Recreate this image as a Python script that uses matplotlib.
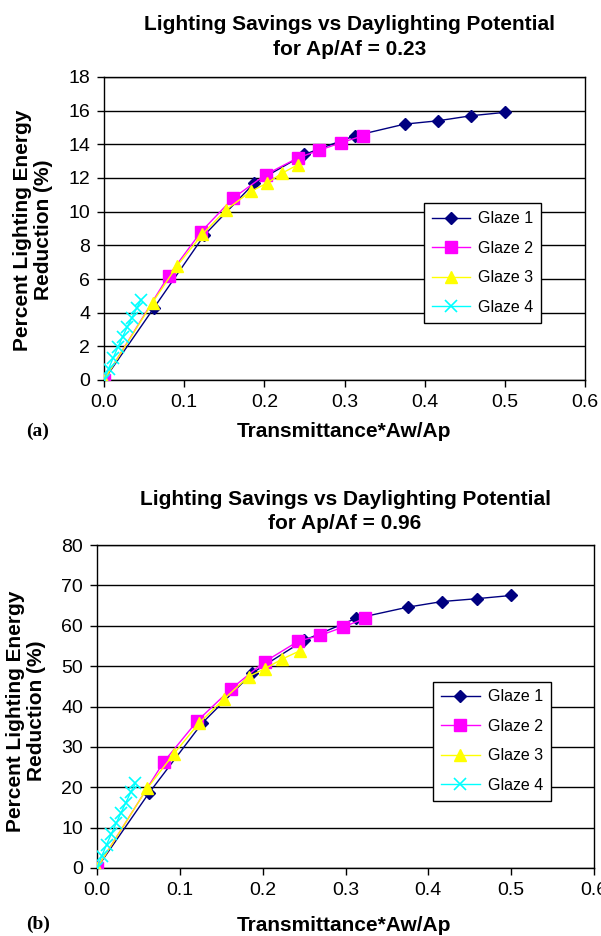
import matplotlib
matplotlib.use("Agg")
import matplotlib.pyplot as plt

plt.rcParams['font.family'] = ['Liberation Sans', 'DejaVu Sans']

# Ap/Af = 0.23
g1_x_a = [0.0, 0.0625, 0.125, 0.1875, 0.25, 0.3125, 0.375, 0.4167, 0.4583, 0.5]
g1_y_a = [0.0, 4.3, 8.6, 11.7, 13.4, 14.5, 15.2, 15.4, 15.7, 15.9]
g2_x_a = [0.0, 0.0806, 0.121, 0.161, 0.2016, 0.242, 0.2688, 0.2957, 0.3226]
g2_y_a = [0.0, 6.2, 8.8, 10.8, 12.2, 13.2, 13.65, 14.1, 14.5]
g3_x_a = [0.0, 0.0605, 0.0915, 0.1225, 0.152, 0.183, 0.2035, 0.2225, 0.2425]
g3_y_a = [0.0, 4.6, 6.8, 8.65, 10.1, 11.2, 11.7, 12.3, 12.8]
g4_x_a = [0.0, 0.0058, 0.0116, 0.0174, 0.0232, 0.029, 0.0348, 0.0406, 0.0464]
g4_y_a = [0.0, 0.68, 1.33, 1.96, 2.57, 3.15, 3.7, 4.25, 4.78]

# Ap/Af = 0.96
g1_x_b = [0.0, 0.0625, 0.127, 0.1875, 0.25, 0.3125, 0.375, 0.4167, 0.4583, 0.5]
g1_y_b = [0.0, 18.5, 35.9, 48.3, 56.4, 61.8, 64.6, 66.0, 66.7, 67.5]
g2_x_b = [0.0, 0.0806, 0.121, 0.162, 0.2025, 0.2432, 0.2695, 0.2975, 0.323]
g2_y_b = [0.0, 26.3, 36.4, 44.4, 51.1, 56.2, 57.6, 59.7, 61.8]
g3_x_b = [0.0, 0.0605, 0.0925, 0.1227, 0.153, 0.183, 0.203, 0.223, 0.245]
g3_y_b = [0.0, 19.7, 28.2, 35.8, 41.8, 47.4, 49.4, 51.7, 53.8]
g4_x_b = [0.0, 0.0058, 0.0116, 0.0174, 0.0232, 0.029, 0.0348, 0.0406, 0.0464]
g4_y_b = [0.0, 3.0, 5.8, 8.5, 11.1, 13.7, 16.2, 18.7, 21.0]

x_ticks = [0.0, 0.1, 0.2, 0.3, 0.4, 0.5, 0.6]

W, H = 601, 936
fig = plt.figure(figsize=(W / 100, H / 100), dpi=100)


def draw(ax, data, ymax, ystep, leg_anchor):
    (x1, y1), (x2, y2), (x3, y3), (x4, y4) = data
    ax.plot(x1, y1, color='#000080', lw=1, marker='D', ms=6.5, label='Glaze 1', zorder=3)
    ax.plot(x2, y2, color='#ff00ff', lw=1, marker='s', ms=8, label='Glaze 2', zorder=4)
    ax.plot(x3, y3, color='#ffff00', lw=1, marker='^', ms=9, label='Glaze 3', zorder=5)
    ax.plot(x4, y4, color='#00ffff', lw=1, marker='x', ms=8, mew=1.2, label='Glaze 4', zorder=6)
    ax.set_xlim(0, 0.6)
    ax.set_ylim(0, ymax)
    ax.set_xticks(x_ticks)
    ax.set_xticklabels(['%.1f' % v for v in x_ticks])
    ax.set_yticks(range(0, ymax + 1, ystep))
    ax.yaxis.grid(True, color='black', lw=1)
    ax.set_axisbelow(True)
    ax.tick_params(direction='out', length=5, width=1, labelsize=14, color='black')
    ax.tick_params(axis='x', pad=5)
    ax.tick_params(axis='y', pad=5)
    for s in ax.spines.values():
        s.set_linewidth(1)
    leg = ax.legend(loc='center right', bbox_to_anchor=leg_anchor, borderaxespad=0,
                    fontsize=11.5, fancybox=False, framealpha=1, edgecolor='black',
                    handlelength=2.4, labelspacing=0.9, borderpad=0.5, handletextpad=0.5)
    leg.get_frame().set_linewidth(1)


ax1 = fig.add_axes([104 / W, 1 - 380 / H, 481 / W, 303 / H])
draw(ax1, [(g1_x_a, g1_y_a), (g2_x_a, g2_y_a), (g3_x_a, g3_y_a), (g4_x_a, g4_y_a)],
     18, 2, (0.909, 0.386))
ax2 = fig.add_axes([97 / W, 1 - 868 / H, 497 / W, 323 / H])
draw(ax2, [(g1_x_b, g1_y_b), (g2_x_b, g2_y_b), (g3_x_b, g3_y_b), (g4_x_b, g4_y_b)],
     80, 10, (0.913, 0.393))

bold = dict(fontsize=15, fontweight='bold', ha='center', va='baseline')
fig.text(350 / W, 1 - 30 / H, 'Lighting Savings vs Daylighting Potential', **bold)
fig.text(350 / W, 1 - 55 / H, 'for Ap/Af = 0.23', **bold)
fig.text(345 / W, 1 - 505 / H, 'Lighting Savings vs Daylighting Potential', **bold)
fig.text(345 / W, 1 - 529 / H, 'for Ap/Af = 0.96', **bold)

fig.text(344 / W, 1 - 437 / H, 'Transmittance*Aw/Ap', **bold)
fig.text(344 / W, 1 - 931 / H, 'Transmittance*Aw/Ap', **bold)

ylab = dict(fontsize=15, fontweight='bold', ha='center', va='center', rotation=90,
            linespacing=1.1)
fig.text(33 / W, 1 - 230 / H, 'Percent Lighting Energy\nReduction (%)', **ylab)
fig.text(26 / W, 1 - 711 / H, 'Percent Lighting Energy\nReduction (%)', **ylab)

serif = dict(fontsize=14, fontweight='bold', family='Liberation Serif', ha='left',
             va='baseline')
fig.text(26 / W, 1 - 436 / H, '(a)', **serif)
fig.text(26 / W, 1 - 929 / H, '(b)', **serif)

fig.savefig('out.png', dpi=100)
